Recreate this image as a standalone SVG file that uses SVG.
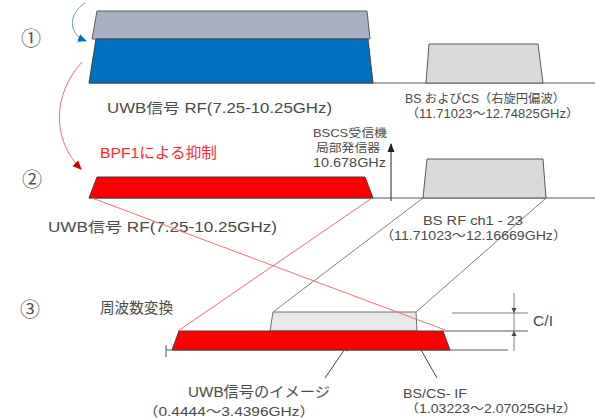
<svg xmlns="http://www.w3.org/2000/svg" width="595" height="420" viewBox="0 0 595 420">
<defs>
<style>
text{font-family:"Liberation Sans","Noto Sans CJK JP",sans-serif;fill:#4a4a4a}
.red{fill:#ff2a2a}
.base{stroke:#595959;stroke-width:1;fill:none}
.thin{stroke:#7f7f7f;stroke-width:1;fill:none}
.rl{stroke:#f07070;stroke-width:1;fill:none}
.num{font-size:20px;fill:#505050;font-family:"Noto Sans CJK JP",sans-serif}
</style>
<marker id="mb" markerWidth="10" markerHeight="10" refX="8" refY="5" orient="auto" markerUnits="userSpaceOnUse"><path d="M0,1 L9,5 L0,9 Z" fill="#0070c0"/></marker>
<marker id="mr" markerWidth="10" markerHeight="10" refX="8" refY="5" orient="auto" markerUnits="userSpaceOnUse"><path d="M0,1 L9,5 L0,9 Z" fill="#c00000"/></marker>
<marker id="mk" markerWidth="10" markerHeight="10" refX="8" refY="5" orient="auto" markerUnits="userSpaceOnUse"><path d="M0,1.5 L9,5 L0,8.5 Z" fill="#222"/></marker>
</defs>

<g id="labels-numbers">
<text class="num" x="31" y="46" text-anchor="middle">①</text>
<text class="num" x="32" y="187" text-anchor="middle">②</text>
<text class="num" x="30" y="317" text-anchor="middle">③</text>
</g>

<g id="connectors">
<path d="M85,3 C68,14 68,34 86,41" stroke="#5ba3e0" stroke-width="1" fill="none" marker-end="url(#mb)"/>
<path d="M82,62 C52,95 52,140 81,169" stroke="#f07070" stroke-width="1" fill="none" marker-end="url(#mr)"/>
<line class="thin" x1="423" y1="198" x2="273" y2="312"/>
<line class="thin" x1="546" y1="198" x2="416" y2="312"/>
<line x1="391" y1="201" x2="391" y2="144" stroke="#222" stroke-width="1" marker-end="url(#mk)"/>
<line x1="437" y1="378" x2="404" y2="320" stroke="#444" stroke-width="1" marker-end="url(#mk)"/>
<line x1="325" y1="378" x2="349" y2="343" stroke="#444" stroke-width="1" marker-end="url(#mk)"/>
</g>

<g id="band1">
<line class="base" x1="89" y1="83" x2="595" y2="83"/>
<polygon points="97,11 367,11 370,39 92,39" fill="#a9b1c1" stroke="#595959" stroke-width="1"/>
<polygon points="96,39 368,39 373,83 89,83" fill="#0070c0" stroke="#404040" stroke-width="1"/>
<text x="107" y="113" font-size="14" textLength="225" lengthAdjust="spacingAndGlyphs">UWB信号 RF(7.25-10.25GHz)</text>
</g>

<g id="bscs1">
<polygon points="429,44 538,44 543,83 426,83" fill="#d9d9d9" stroke="#595959" stroke-width="1"/>
<text x="405" y="103" font-size="12" textLength="160" lengthAdjust="spacingAndGlyphs">BS およびCS（右旋円偏波）</text>
<text x="406" y="117.5" font-size="12" textLength="173" lengthAdjust="spacingAndGlyphs">（11.71023～12.74825GHz）</text>
</g>

<g id="band2">
<line class="base" x1="89" y1="198" x2="595" y2="198"/>
<polygon points="97,177 365,177 373,198 89,198" fill="#ff0000" stroke="#404040" stroke-width="1"/>
<text class="red" x="100" y="157.5" font-size="15" textLength="117" lengthAdjust="spacingAndGlyphs">BPF1による抑制</text>
<text x="48" y="232" font-size="14" textLength="229" lengthAdjust="spacingAndGlyphs">UWB信号 RF(7.25-10.25GHz)</text>
</g>

<g id="lo">
<text x="350" y="137" font-size="11.5" text-anchor="middle" textLength="74" lengthAdjust="spacingAndGlyphs">BSCS受信機</text>
<text x="348" y="151.5" font-size="11.5" text-anchor="middle" textLength="64" lengthAdjust="spacingAndGlyphs">局部発信器</text>
<text x="349.5" y="166.5" font-size="12.5" text-anchor="middle" textLength="73" lengthAdjust="spacingAndGlyphs">10.678GHz</text>
</g>

<g id="bsrf2">
<polygon points="427,159 543,159 546,198 423,198" fill="#d9d9d9" stroke="#595959" stroke-width="1"/>
<text x="423" y="224.5" font-size="12.5" textLength="100" lengthAdjust="spacingAndGlyphs">BS RF ch1 - 23</text>
<text x="380" y="240" font-size="12.5" textLength="187" lengthAdjust="spacingAndGlyphs">（11.71023～12.16669GHz）</text>
</g>

<g id="band3">
<text x="100" y="313" font-size="14.5" textLength="73" lengthAdjust="spacingAndGlyphs">周波数変換</text>
<line class="base" x1="166" y1="350" x2="508" y2="350"/>
<line class="base" x1="166" y1="345" x2="166" y2="357"/>
<polygon points="273,312 416,312 417,331 270,331" fill="#e8e8e8" stroke="#6f6f6f" stroke-width="1"/>
<polygon points="179,331 443,331 450,350 172,350" fill="#ff0000" stroke="#404040" stroke-width="1"/>
<line class="base" x1="443" y1="331" x2="528" y2="331"/>
<line class="rl" x1="92" y1="198" x2="445" y2="330"/>
<line class="rl" x1="372" y1="198" x2="178" y2="331"/>
</g>

<g id="ci">
<line class="thin" x1="452" y1="313" x2="528" y2="313"/>
<line class="thin" x1="514" y1="293" x2="514" y2="351"/>
<path d="M511.5,308 L516.5,308 L514,313 Z" fill="#444"/>
<path d="M511.5,336 L516.5,336 L514,331 Z" fill="#444"/>
<text x="533" y="326" font-size="14" textLength="20" lengthAdjust="spacingAndGlyphs">C/I</text>
</g>

<g id="img-labels">
<text x="188" y="397" font-size="14.5" textLength="142" lengthAdjust="spacingAndGlyphs">UWB信号のイメージ</text>
<text x="143" y="416" font-size="13.5" textLength="172" lengthAdjust="spacingAndGlyphs">（0.4444～3.4396GHz）</text>
<text x="403" y="397.5" font-size="12" textLength="64" lengthAdjust="spacingAndGlyphs">BS/CS- IF</text>
<text x="405" y="412.5" font-size="12" textLength="172" lengthAdjust="spacingAndGlyphs">（1.03223～2.07025GHz）</text>
</g>
</svg>
